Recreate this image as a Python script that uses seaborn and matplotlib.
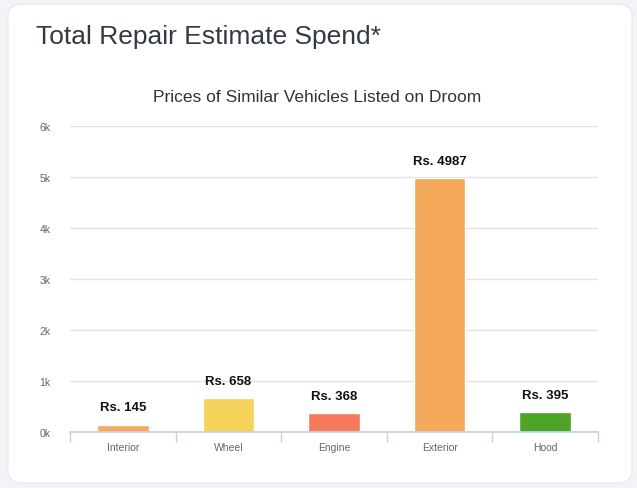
import pandas as pd
import seaborn as sns
import matplotlib.pyplot as plt
from matplotlib.patches import FancyBboxPatch
from matplotlib.ticker import FuncFormatter

parts = ['Interior', 'Wheel', 'Engine', 'Exterior', 'Hood']
spend = [145, 658, 368, 4987, 395]
colors = ['#f5a95b', '#f5d25a', '#f57a5b', '#f5a95b', '#4da527']

df = pd.DataFrame({'part': parts, 'spend': spend})

sns.set_theme(style='white')
plt.rcParams['font.family'] = ['Liberation Sans', 'DejaVu Sans']

fig = plt.figure(figsize=(6.37, 4.89), dpi=100, facecolor='#f3f4f8')
W, H = 637, 489

# white card
card = FancyBboxPatch((8 / W, 5 / H), 624 / W, 479 / H,
                      boxstyle='round,pad=0,rounding_size=0.025',
                      transform=fig.transFigure, facecolor='white',
                      edgecolor='#e6e8ee', linewidth=0.8, zorder=-5)
fig.patches.append(card)

fig.text(36 / W, 1 - 37 / H, 'Total Repair Estimate Spend*', fontsize=19,
         color='#333a45', va='center', ha='left')
fig.text(317 / W, 1 - 98 / H, 'Prices of Similar Vehicles Listed on Droom',
         fontsize=12.5, color='#333333', va='center', ha='center')

ax = fig.add_axes([70 / W, 1 - 433 / H, 528 / W, 306 / H])
ax.set_facecolor('none')
sns.barplot(data=df, x='part', y='spend', hue='part', palette=colors,
            legend=False, width=0.49, saturation=1, ax=ax)

ax.set_ylim(0, 6000)
ax.set_xlim(-0.5, 4.5)
ax.set_yticks(range(0, 6001, 1000))
ax.yaxis.set_major_formatter(FuncFormatter(lambda v, p: f'{int(v / 1000)}k'))
ax.grid(axis='y', color='#e3e3e3', linewidth=1)
ax.set_axisbelow(True)
ax.set_xlabel('')
ax.set_ylabel('')
for s in ['top', 'right', 'left']:
    ax.spines[s].set_visible(False)
ax.spines['bottom'].set_color('#c3d3e3')
ax.tick_params(axis='y', labelsize=7.5, colors='#666666', length=0, pad=14)
ax.tick_params(axis='x', labelsize=7.5, colors='#666666', length=0, pad=7)

# category separator ticks
for xb in [-0.5, 0.5, 1.5, 2.5, 3.5, 4.5]:
    ax.plot([xb, xb], [0, -0.033], transform=ax.get_xaxis_transform(),
            color='#c3d3e3', linewidth=1, clip_on=False)

for i, v in enumerate(spend):
    ax.annotate(f'Rs. {v}', (i, v), xytext=(0, 8), textcoords='offset points',
                ha='center', va='bottom', fontsize=9.5, fontweight='bold',
                color='#111111')

fig.savefig('out.png', dpi=100, facecolor=fig.get_facecolor())
